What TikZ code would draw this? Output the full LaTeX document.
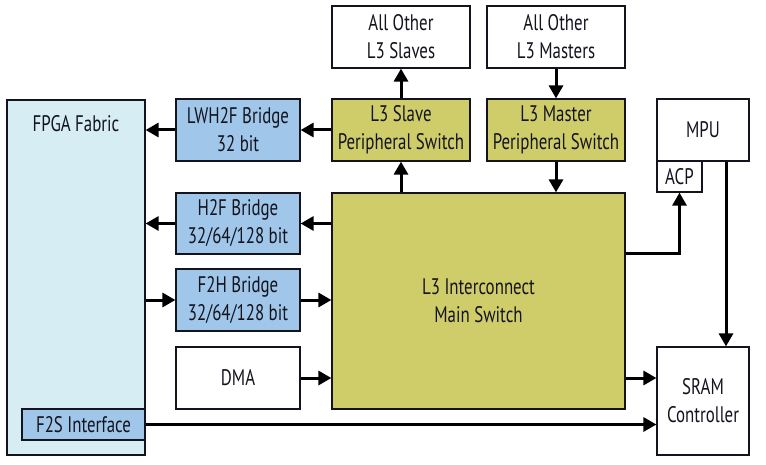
\documentclass[tikz,border=0pt]{standalone}
\usepackage{fontspec}
\setmainfont[FakeStretch=0.75]{PT Sans}
\usetikzlibrary{arrows.meta}
\definecolor{olivebox}{RGB}{207,205,106}
\definecolor{bluebox}{RGB}{160,199,234}
\definecolor{cyanbox}{RGB}{214,237,244}
\definecolor{ink}{RGB}{20,20,30}
\tikzset{
  blk/.style={draw=ink, line width=1.2pt, align=center, inner sep=0pt,
    font=\fontsize{22.5}{28}\selectfont, text=ink},
  olv/.style={blk, fill=olivebox},
  blu/.style={blk, fill=bluebox},
  wht/.style={blk, fill=white},
  arr/.style={line width=3pt, draw=black, -{Triangle[length=13pt,width=14pt]}},
  plain/.style={line width=3pt, draw=black}
}
\begin{document}
\begin{tikzpicture}[x=1pt,y=-1pt]
\useasboundingbox (0,0) rectangle (766,465);
% FPGA fabric
\node[blk, fill=cyanbox, minimum width=138pt, minimum height=355pt] (fpga) at (76,277.5) {};
\node[blk, draw=none] (fpgalabel) at (76,124) {FPGA Fabric};
\node[blu, minimum width=123pt, minimum height=31pt] (f2s) at (83.5,424.5) {F2S Interface};
% bridges
\node[blu, minimum width=124pt, minimum height=62pt] (lwh2f) at (238,130) {LWH2F Bridge\\32 bit};
\node[blu, minimum width=124pt, minimum height=61pt] (h2f) at (238,223.5) {H2F Bridge\\32/64/128 bit};
\node[blu, minimum width=124pt, minimum height=62pt] (f2h) at (238,300) {F2H Bridge\\32/64/128 bit};
\node[wht, minimum width=124pt, minimum height=62pt] (dma) at (238,378) {DMA};
% main switch
\node[olv, minimum width=293pt, minimum height=216pt] (main) at (478.5,301) {L3 Interconnect\\Main Switch};
\node[olv, minimum width=138pt, minimum height=62pt] (slsw) at (401,130) {L3 Slave\\Peripheral Switch};
\node[olv, minimum width=138pt, minimum height=62pt] (mssw) at (556,130) {L3 Master\\Peripheral Switch};
\node[wht, minimum width=138pt, minimum height=62pt] (slaves) at (401,37) {All Other\\L3 Slaves};
\node[wht, minimum width=138pt, minimum height=62pt] (masters) at (556,37) {All Other\\L3 Masters};
% MPU etc
\node[wht, minimum width=92pt, minimum height=62pt] (mpu) at (703,130) {MPU};
\node[wht, minimum width=45pt, minimum height=31pt] (acp) at (679.5,176.5) {ACP};
\node[wht, minimum width=92pt, minimum height=108pt] (sram) at (703,401) {SRAM\\Controller};
% connectors
\draw[arr] (lwh2f.west) -- (lwh2f.west -| fpga.east);
\draw[arr] (slsw.west) -- (slsw.west -| lwh2f.east);
\draw[arr] (h2f.west) -- (h2f.west -| fpga.east);
\draw[arr] (h2f.east -| main.west) -- (h2f.east);
\draw[arr] (f2h.west -| fpga.east) -- (f2h.west);
\draw[arr] (f2h.east) -- (f2h.east -| main.west);
\draw[arr] (dma.east) -- (dma.east -| main.west);
\draw[arr] (f2s.east) -- (f2s.east -| sram.west);
\draw[arr] (dma.east -| main.east) -- (dma.east -| sram.west);
\draw[arr] ([yshift=47pt]main.east) -| (acp.south);
\draw[arr] ([xshift=23pt]mpu.south) -- ([xshift=23pt]sram.north);
\draw[arr] (main.north -| slsw.south) -- (slsw.south);
\draw[arr] (slsw.north) -- (slaves.south);
\draw[arr] (masters.south) -- (mssw.north);
\draw[arr] (mssw.south) -- (mssw.south |- main.north);
\end{tikzpicture}
\end{document}
